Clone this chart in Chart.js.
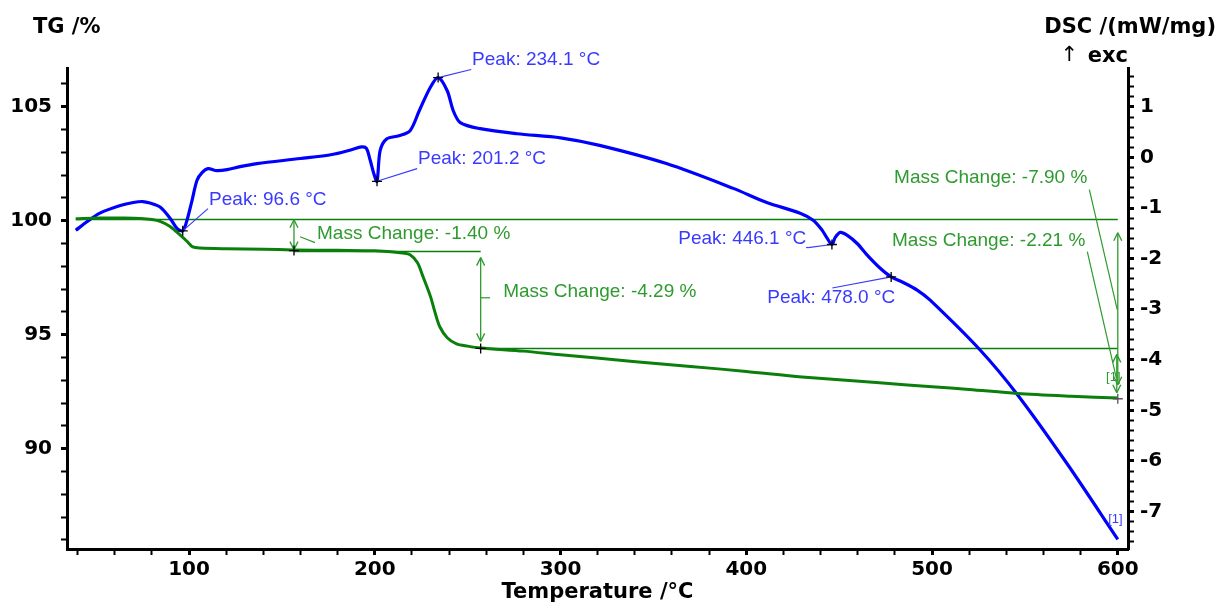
<!DOCTYPE html>
<html>
<head>
<meta charset="utf-8">
<script src="https://cdn.jsdelivr.net/npm/chart.js"></script>
<style>
  html, body { margin: 0; padding: 0; background: #fff; }
  #wrap { width: 1219px; height: 605px; }
</style>
</head>
<body>
<div id="wrap"><canvas id="chart" width="1219" height="605"></canvas></div>
<script>
// TG curve, mass in % (left axis)
const tgTemp = [39, 52, 65, 74, 80, 84.4, 89.8, 95, 99, 102, 106, 120, 140, 156, 180, 200, 210, 215, 219, 223, 226, 230, 232.5, 235, 239, 244, 250, 257, 280, 300, 339, 370, 400, 430, 470, 500, 520, 546, 575, 600];
const tgMass = [100.09, 100.12, 100.12, 100.10, 100.05, 99.97, 99.75, 99.39, 99.09, 98.85, 98.80, 98.77, 98.75, 98.72, 98.70, 98.68, 98.63, 98.58, 98.51, 98.16, 97.54, 96.67, 95.96, 95.35, 94.87, 94.60, 94.50, 94.42, 94.28, 94.12, 93.83, 93.61, 93.39, 93.15, 92.90, 92.72, 92.60, 92.42, 92.30, 92.22];

// DSC curve, mW/mg (right axis)
const dscTemp = [39, 45, 52, 63, 70, 75, 79, 84.4, 89.8, 93.5, 96.6, 98.9, 101.6, 104.3, 107, 110.2, 115, 120.5, 127.5, 136.6, 160, 177, 187, 193, 195.5, 197.5, 199.5, 201.2, 202.9, 206.5, 213, 219, 224, 229.8, 234.1, 239, 242.2, 246, 256.7, 276.6, 300, 321, 357, 393, 411, 429, 436, 440.9, 443.6, 446.1, 447.9, 450.6, 454.4, 459.7, 465.1, 472.1, 478, 484.5, 492, 499, 526, 546, 573, 600];
const dscValue = [-1.44, -1.27, -1.10, -0.95, -0.89, -0.87, -0.90, -0.98, -1.20, -1.40, -1.45, -1.24, -0.85, -0.45, -0.30, -0.22, -0.26, -0.24, -0.18, -0.12, -0.02, 0.06, 0.15, 0.21, 0.18, -0.05, -0.32, -0.47, 0.14, 0.37, 0.43, 0.53, 0.93, 1.38, 1.58, 1.32, 0.93, 0.69, 0.57, 0.47, 0.39, 0.24, -0.12, -0.61, -0.89, -1.10, -1.24, -1.44, -1.60, -1.72, -1.58, -1.48, -1.54, -1.70, -1.93, -2.19, -2.36, -2.47, -2.62, -2.82, -3.81, -4.69, -6.07, -7.55];

// tick labels
const xTickLabels = [100, 200, 300, 400, 500, 600];
const tgTickLabels = [90, 95, 100, 105];
const dscTickLabels = [1, 0, -1, -2, -3, -4, -5, -6, -7];

// peak evaluations on the DSC curve
const peakTemps = [96.6, 201.2, 234.1, 446.1, 478.0];
const peakDsc = [-1.45, -0.47, 1.58, -1.72, -2.36];

// mass change steps on the TG curve
const massSteps = [-1.40, -4.29, -7.90, -2.21];
const tgStart = 100.09;
const stepTemps = [156.5, 257, 600];

const BLUE = '#0000ff', BLUE_TXT = '#3a3aff';
const GREEN = '#0b7f0b', GREEN_TXT = '#2f9a2f';

// where the texts sit, in data units (temperature, axis value)
const peakLabels = [
  { text: 'Peak: ' + peakTemps[0].toFixed(1) + ' °C', tx: 110.8, ty: -0.83, align: 'left', lx: 110.2, ly: -1.01 },
  { text: 'Peak: ' + peakTemps[1].toFixed(1) + ' °C', tx: 223.3, ty: -0.02, align: 'left', lx: 222.8, ly: -0.22 },
  { text: 'Peak: ' + peakTemps[2].toFixed(1) + ' °C', tx: 252.4, ty: 1.93, align: 'left', lx: 251.9, ly: 1.74 },
  { text: 'Peak: ' + peakTemps[3].toFixed(1) + ' °C', tx: 432.3, ty: -1.60, align: 'right', lx: 433.3, ly: -1.78 },
  { text: 'Peak: ' + peakTemps[4].toFixed(1) + ' °C', tx: 411.3, ty: -2.78, align: 'left', lx: 446.3, ly: -2.58 }
];
const massLabels = [
  { tx: 168.9, ty: 99.43, align: 'left', from: [159.8, 99.30], to: [167.8, 99.04] },
  { tx: 269.1, ty: 96.89, align: 'left', from: [257, 96.62], to: [262.1, 96.62] },
  { tx: 583.6, ty: 101.89, align: 'right', from: [584.7, 101.36], to: [599.7, 96.10] },
  { tx: 582.5, ty: 99.12, align: 'right', from: [583.6, 98.64], to: [599.2, 93.11] }
];

function fmtMass(v) { return 'Mass Change: ' + v.toFixed(2) + ' %'; }

const annotate = {
  id: 'annotate',
  beforeDatasetsDraw(chart) {
    const ctx = chart.ctx, x = chart.scales.x, tg = chart.scales.yTG;
    const lvl1 = tgStart + massSteps[0];
    const lvl2 = lvl1 + massSteps[1];
    const refs = [[tgStart, tgTemp[0], stepTemps[2]], [lvl1, stepTemps[0], stepTemps[1]], [lvl2, stepTemps[1], stepTemps[2]]];
    ctx.save();
    ctx.strokeStyle = GREEN;
    ctx.lineWidth = 1.3;
    refs.forEach(r => {
      const y = Math.round(tg.getPixelForValue(r[0])) + 0.5;
      ctx.beginPath();
      ctx.moveTo(x.getPixelForValue(r[1]), y);
      ctx.lineTo(x.getPixelForValue(r[2]), y);
      ctx.stroke();
    });
    ctx.restore();
  },
  afterDatasetsDraw(chart) {
    const ctx = chart.ctx, x = chart.scales.x, tg = chart.scales.yTG, dsc = chart.scales.yDSC;
    const cross = (px, py, col) => {
      ctx.strokeStyle = col; ctx.lineWidth = 1.3;
      ctx.beginPath();
      ctx.moveTo(px - 5, py); ctx.lineTo(px + 5, py);
      ctx.moveTo(px, py - 5); ctx.lineTo(px, py + 5);
      ctx.stroke();
    };
    const line = (x0, y0, x1, y1) => { ctx.beginPath(); ctx.moveTo(x0, y0); ctx.lineTo(x1, y1); ctx.stroke(); };
    const vArrow = (px, y0, y1, inset) => {
      const a = y0 + inset, b = y1 - inset;
      ctx.strokeStyle = GREEN_TXT; ctx.lineWidth = 1.3;
      line(px, a, px, b);
      line(px - 4, a + 8, px, a); line(px + 4, a + 8, px, a);
      line(px - 4, b - 8, px, b); line(px + 4, b - 8, px, b);
    };
    ctx.save();
    ctx.font = '19px "Liberation Sans", Arial, sans-serif';
    ctx.textBaseline = 'middle';

    // DSC peaks
    peakLabels.forEach((p, i) => {
      const cx = x.getPixelForValue(peakTemps[i]), cy = dsc.getPixelForValue(peakDsc[i]);
      ctx.strokeStyle = BLUE_TXT; ctx.lineWidth = 1.2;
      line(cx, cy, x.getPixelForValue(p.lx), dsc.getPixelForValue(p.ly));
      if (p.align === 'right') {
        line(x.getPixelForValue(p.lx), dsc.getPixelForValue(p.ly), x.getPixelForValue(p.lx) - 2, dsc.getPixelForValue(p.ly));
      }
      cross(cx, cy, '#000');
      ctx.fillStyle = BLUE_TXT;
      ctx.textAlign = p.align;
      ctx.fillText(p.text, x.getPixelForValue(p.tx), dsc.getPixelForValue(p.ty));
    });

    // TG mass change arrows
    const lvl1 = tgStart + massSteps[0];
    const lvl2 = lvl1 + massSteps[1];
    const lvlEnd = tgStart + massSteps[2];
    vArrow(x.getPixelForValue(stepTemps[0]), tg.getPixelForValue(tgStart), tg.getPixelForValue(lvl1), 1);
    vArrow(x.getPixelForValue(stepTemps[1]), tg.getPixelForValue(lvl1), tg.getPixelForValue(lvl2), 7);
    vArrow(x.getPixelForValue(stepTemps[2]), tg.getPixelForValue(tgStart), tg.getPixelForValue(lvlEnd), 14);
    vArrow(x.getPixelForValue(stepTemps[2]) - 1, tg.getPixelForValue(lvl2), tg.getPixelForValue(lvlEnd), 6);
    massLabels.forEach((m, i) => {
      ctx.strokeStyle = GREEN_TXT; ctx.lineWidth = 1.2;
      line(x.getPixelForValue(m.from[0]), tg.getPixelForValue(m.from[1]), x.getPixelForValue(m.to[0]), tg.getPixelForValue(m.to[1]));
      ctx.fillStyle = GREEN_TXT;
      ctx.textAlign = m.align;
      ctx.fillText(fmtMass(massSteps[i]), x.getPixelForValue(m.tx), tg.getPixelForValue(m.ty));
    });
    cross(x.getPixelForValue(stepTemps[0]), tg.getPixelForValue(lvl1), '#000');
    cross(x.getPixelForValue(stepTemps[1]), tg.getPixelForValue(lvl2), '#000');
    cross(x.getPixelForValue(stepTemps[2]), tg.getPixelForValue(lvlEnd), '#555');

    // curve markers [1]
    ctx.font = '13px "Liberation Sans", Arial, sans-serif';
    ctx.textAlign = 'center';
    ctx.fillStyle = GREEN_TXT;
    ctx.fillText('[1]', x.getPixelForValue(597.6), tg.getPixelForValue(93.11));
    ctx.fillStyle = BLUE_TXT;
    ctx.fillText('[1]', x.getPixelForValue(598.7), dsc.getPixelForValue(-7.16));
    ctx.restore();
  },
  afterDraw(chart) {
    const ctx = chart.ctx;
    ctx.save();
    ctx.fillStyle = '#000';
    ctx.font = 'bold 21px "DejaVu Sans", sans-serif';
    ctx.textBaseline = 'middle';
    ctx.textAlign = 'left';
    ctx.fillText('TG /%', 33, 28);
    ctx.textAlign = 'right';
    ctx.fillText('DSC /(mW/mg)', 1216, 28);
    ctx.fillText('exc', chart.chartArea.right, 57);
    ctx.font = '21px "DejaVu Sans", sans-serif';
    ctx.fillText('↑', chart.chartArea.right - 50, 56);
    ctx.restore();
  }
};

const tickFont = { family: '"DejaVu Sans", sans-serif', size: 20, weight: 'bold' };
const isLabel = (list, v) => list.some(l => Math.abs(l - v) < 1e-6);

new Chart(document.getElementById('chart'), {
  type: 'line',
  data: {
    datasets: [
      {
        label: 'TG',
        data: tgTemp.map((t, i) => ({ x: t, y: tgMass[i] })),
        yAxisID: 'yTG',
        borderColor: GREEN,
        borderWidth: 3,
        pointRadius: 0,
        tension: 0.3
      },
      {
        label: 'DSC',
        data: dscTemp.map((t, i) => ({ x: t, y: dscValue[i] })),
        yAxisID: 'yDSC',
        borderColor: BLUE,
        borderWidth: 3.2,
        pointRadius: 0,
        tension: 0.3
      }
    ]
  },
  options: {
    responsive: false,
    animation: false,
    events: [],
    layout: { padding: { top: 68, left: 0, right: 0, bottom: 0 } },
    plugins: { legend: { display: false }, tooltip: { enabled: false } },
    scales: {
      x: {
        type: 'linear',
        min: 34.3,
        max: 605.5,
        border: { color: '#000', width: 3 },
        grid: { drawOnChartArea: false, tickLength: 6, tickColor: '#000', tickWidth: c => isLabel(xTickLabels, c.tick.value) ? 3 : 2 },
        ticks: {
          stepSize: 20,
          includeBounds: false,
          autoSkip: false,
          maxRotation: 0,
          padding: 3,
          color: '#000',
          font: tickFont,
          callback: v => isLabel(xTickLabels, v) ? String(v) : ''
        },
        title: { display: true, text: 'Temperature /°C', color: '#000', font: { family: '"DejaVu Sans", sans-serif', size: 21, weight: 'bold' }, padding: { top: 1, bottom: 0 } },
        afterFit: s => { s.height = 56; }
      },
      yTG: {
        type: 'linear',
        position: 'left',
        min: 85.6,
        max: 106.7,
        border: { color: '#000', width: 3 },
        grid: { drawOnChartArea: false, tickLength: 6, tickColor: '#000', tickWidth: c => isLabel(tgTickLabels, c.tick.value) ? 3 : 2 },
        ticks: {
          stepSize: 1,
          includeBounds: false,
          autoSkip: false,
          padding: 9,
          color: '#000',
          font: tickFont,
          callback: v => isLabel(tgTickLabels, v) ? String(v) : ''
        },
        afterFit: s => { s.width = 67; }
      },
      yDSC: {
        type: 'linear',
        position: 'right',
        min: -7.74,
        max: 1.77,
        border: { color: '#000', width: 3 },
        grid: { drawOnChartArea: false, tickLength: 6, tickColor: '#000', tickWidth: c => isLabel(dscTickLabels, c.tick.value) ? 3 : 2 },
        ticks: {
          stepSize: 0.2,
          includeBounds: false,
          autoSkip: false,
          padding: 6,
          color: '#000',
          font: tickFont,
          callback: v => isLabel(dscTickLabels, v) ? String(Math.round(v)) : ''
        },
        afterFit: s => { s.width = 91; }
      }
    }
  },
  plugins: [annotate]
});
</script>
</body>
</html>
